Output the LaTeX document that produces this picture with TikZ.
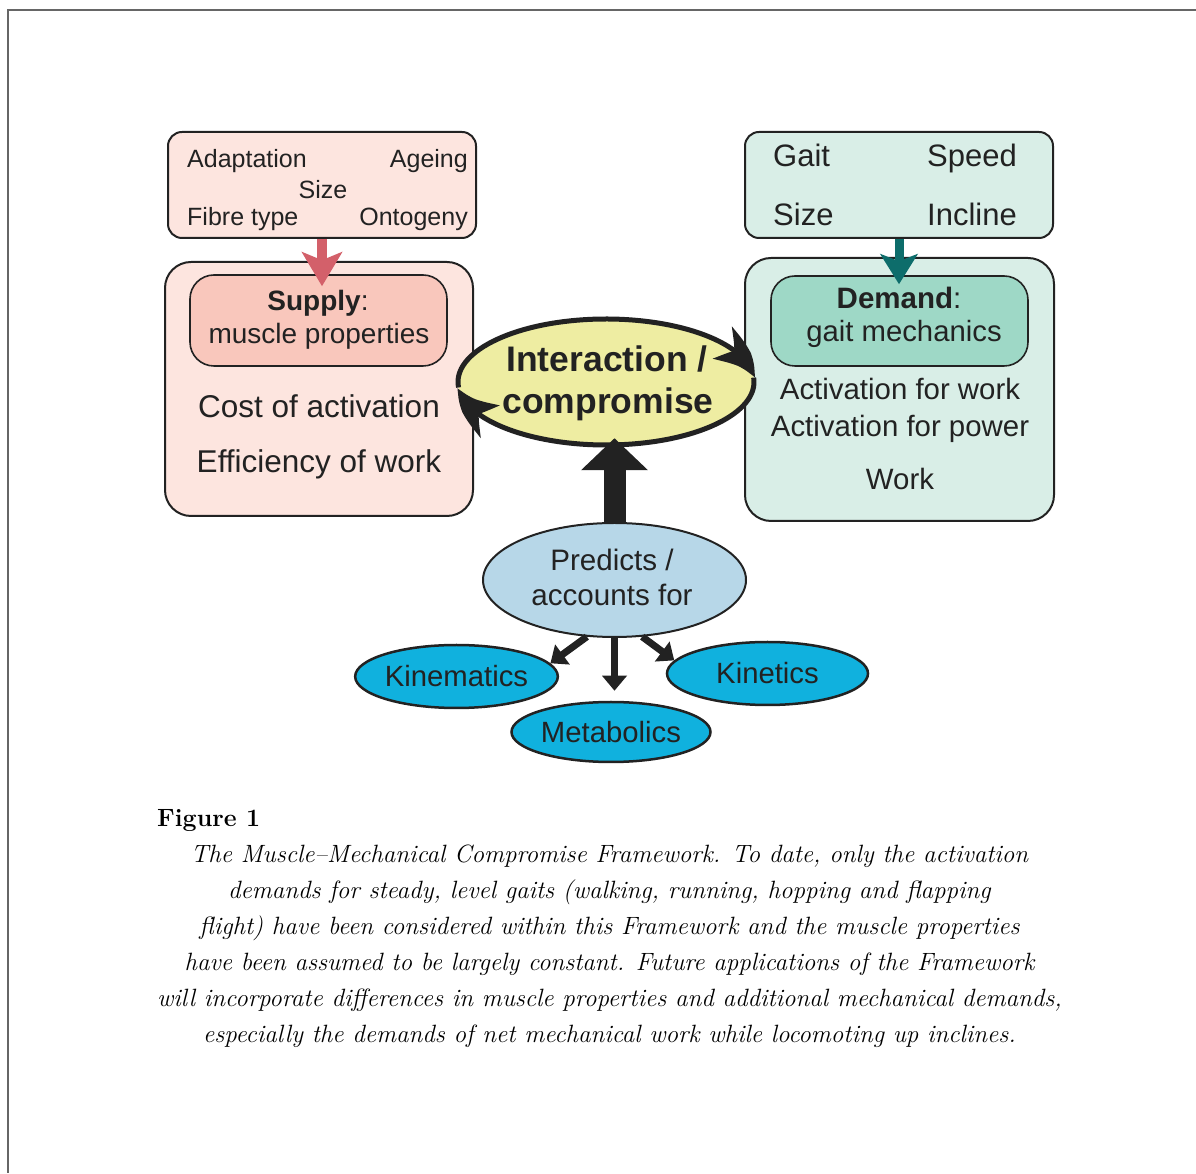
\documentclass[tikz,border=0pt]{standalone}
\usepackage{fontspec}
\newfontfamily\dfont{Liberation Sans}
\usetikzlibrary{positioning,shapes.geometric,arrows.meta,bending}

\definecolor{supplypale}{HTML}{FDE5DF}
\definecolor{supplyhead}{HTML}{F9C7BC}
\definecolor{supplyred}{HTML}{D3606A}
\definecolor{demandpale}{HTML}{D9EEE7}
\definecolor{demandhead}{HTML}{9ED8C6}
\definecolor{demandteal}{HTML}{0D6D6B}
\definecolor{interyellow}{HTML}{EEEDA2}
\definecolor{predblue}{HTML}{B7D7E8}
\definecolor{outcyan}{HTML}{10B1DE}
\definecolor{ink}{HTML}{222222}

\begin{document}
\begin{tikzpicture}[x=1pt,y=1pt,
  lbl/.style={inner sep=0pt, text=ink, font=\dfont\fontsize{#1}{#1}\selectfont},
  facbox/.style={draw=ink, line width=2pt, rounded corners=14pt, minimum width=308pt, minimum height=106pt},
  bigbox/.style={draw=ink, line width=2pt, rounded corners=26pt, minimum width=308pt},
  headbox/.style={draw=ink, line width=1.6pt, rounded corners=24pt, minimum width=257pt, minimum height=91pt},
  outcome/.style={ellipse, draw=ink, line width=2.5pt, fill=outcyan, inner sep=0pt, minimum width=201pt, minimum height=63pt, text=ink, font=\dfont\fontsize{29.3}{29.3}\selectfont},
  rimarrow/.style={draw=ink, line width=5pt, -{Stealth[bend,width=38pt,length=40pt,inset=10pt]}},
  predarrow/.style={draw=ink, line width=7pt, -{Triangle[width=24pt,length=15pt]}}]

\useasboundingbox (0,0) rectangle (1196,1173);
\draw[line width=1.5pt, black!60] (1196,1163) -- (8,1163) -- (8,0);

% supply side
\node[facbox, fill=supplypale] (sfac) at (322,988) {};
\node[bigbox, fill=supplypale, minimum height=254pt] (sbox) at (319,784) {};
\node[headbox, fill=supplyhead] (shead) at (318.5,852.5) {};

\node[lbl=25, anchor=base west] (adapt) at (187,1005) {Adaptation};
\node[lbl=25, anchor=base east] (ageing) at (468,1005) {Ageing};
\node[lbl=25, anchor=base] (ssize) at (323,974) {Size};
\node[lbl=25, anchor=base west] (fibre) at (187,947) {Fibre type};
\node[lbl=25, anchor=base east] (onto) at (468,947) {Ontogeny};

\node[lbl=28, anchor=base] (supply) at (318,862) {\textbf{Supply}:};
\node[lbl=28, anchor=base] (mprop) at (319,829) {muscle properties};
\node[lbl=31.5, anchor=base] (cost) at (319,755) {Cost of activation};
\node[lbl=31.5, anchor=base] (effic) at (319,700) {Efficiency of work};

\draw[line width=10pt, supplyred, shorten >=-12pt, -{Stealth[width=40pt,length=34pt,inset=8pt]}] (sfac.south) -- (sfac.south |- shead.north);

% demand side
\node[facbox, fill=demandpale] (dfac) at (899,988) {};
\node[bigbox, fill=demandpale, minimum width=309pt, minimum height=263pt] (dbox) at (899.5,783.5) {};
\node[headbox, fill=demandhead, minimum height=90pt] (dhead) at (899.5,852) {};

\node[lbl=31, anchor=base west] (gait) at (773,1006) {Gait};
\node[lbl=31, anchor=base east] (speed) at (1017,1006) {Speed};
\node[lbl=31, anchor=base west] (dsize) at (773,947) {Size};
\node[lbl=31, anchor=base east] (incline) at (1017,947) {Incline};

\node[lbl=29.5, anchor=base] (demand) at (899,864) {\textbf{Demand}:};
\node[lbl=29.3, anchor=base] (gmech) at (904,831) {gait mechanics};
\node[lbl=29.4, anchor=base] (actw) at (900,773) {Activation for work};
\node[lbl=29.4, anchor=base] (actp) at (900,736) {Activation for power};
\node[lbl=29.4, anchor=base] (work) at (900,683) {Work};

\draw[line width=9pt, demandteal, shorten >=-9pt, -{Stealth[width=37pt,length=30pt,inset=7pt]}] (dfac.south) -- (dfac.south |- dhead.north);

% interaction
\node[ellipse, fill=interyellow, inner sep=0pt, minimum width=296pt, minimum height=126pt] (inter) at (606,791) {};
\node[lbl=35.5, anchor=base] (intl1) at (607,801) {\bfseries Interaction /};
\node[lbl=35.5, anchor=base] (intl2) at (608,759) {\bfseries compromise};
\draw[rimarrow] ([shift={(185:148pt and 63pt)}]inter.center) arc[start angle=185, end angle=4, x radius=148pt, y radius=63pt];
\draw[rimarrow] ([shift={(4:148pt and 63pt)}]inter.center) arc[start angle=4, end angle=-174.5, x radius=148pt, y radius=63pt];

% predictions
\node[ellipse, draw=ink, line width=2pt, fill=predblue, inner sep=0pt, minimum width=263pt, minimum height=114pt] (pred) at (614.5,593) {};
\node[lbl=29.6, anchor=base] (predl1) at (612,602) {Predicts /};
\node[lbl=29.6, anchor=base] (predl2) at (612,567) {accounts for};
\draw[ink, line width=22pt, shorten >=-7pt, -{Triangle[width=65pt,length=32pt]}] (pred.north) -- (pred.north |- inter.south);

\node[outcome] (kinem) at (456.5,496.5) {Kinematics};
\node[outcome] (kinet) at (767.5,499.5) {Kinetics};
\node[outcome, minimum width=199pt, minimum height=60pt] (metab) at (611,441) {Metabolics};

\draw[predarrow] (pred.-116) -- (kinem.8);
\draw[predarrow, shorten >=10pt] (pred.south) -- (pred.south |- metab.north);
\draw[predarrow] (pred.-64) -- (kinet.172);

% caption
\node[inner sep=0pt, anchor=base west, font=\bfseries\fontsize{25}{25}\selectfont] (figlbl) at (157,346) {Figure 1};
\node[inner sep=0pt, anchor=north, align=center, font=\itshape\fontsize{25}{36}\selectfont] (caption) at (609.5,328) {The Muscle–Mechanical Compromise Framework. To date, only the activation\\
demands for steady, level gaits (walking, running, hopping and flapping\\
flight) have been considered within this Framework and the muscle properties\\
have been assumed to be largely constant. Future applications of the Framework\\
will incorporate differences in muscle properties and additional mechanical demands,\\
especially the demands of net mechanical work while locomoting up inclines.};

\end{tikzpicture}
\end{document}
